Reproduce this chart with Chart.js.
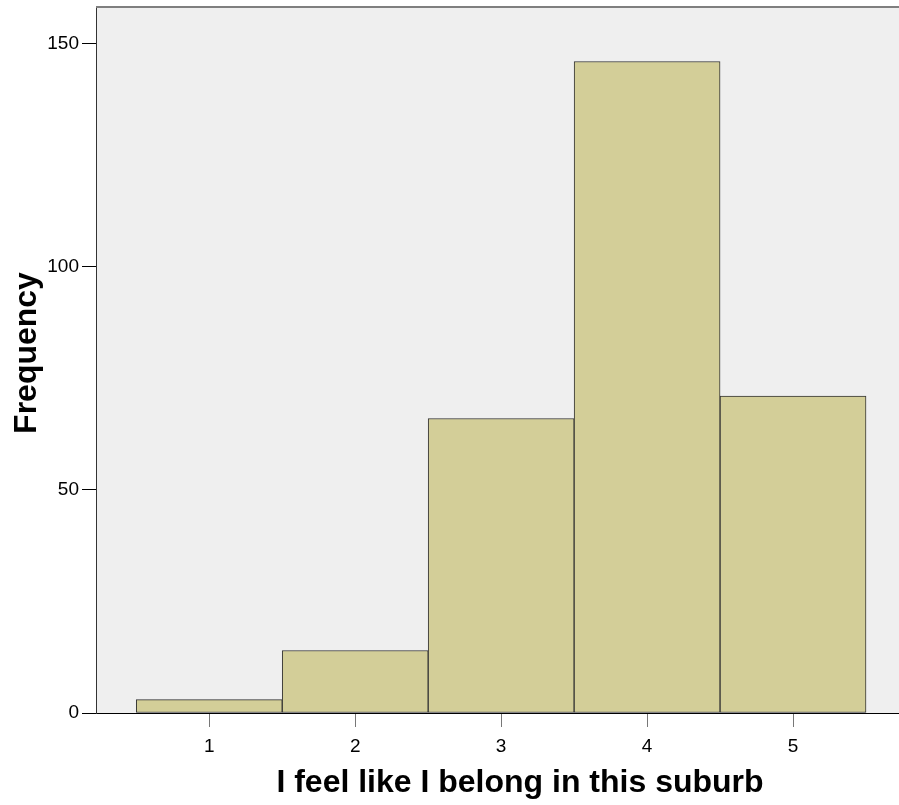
<!DOCTYPE html>
<html>
<head>
<meta charset="utf-8">
<script src="https://cdn.jsdelivr.net/npm/chart.js@4/dist/chart.umd.min.js"></script>
<style>
  body { margin: 0; background: #fff; }
  canvas { display: block; }
</style>
</head>
<body>
<canvas id="belong-hist" width="899" height="805"></canvas>
<script>
// answer values on the 1-5 scale and how many people gave each one
const categories = [1, 2, 3, 4, 5];
const frequencies = [3, 14, 66, 146, 71];
const yTickValues = [0, 50, 100, 150];
const xTitle = 'I feel like I belong in this suburb';
const yTitle = 'Frequency';

// grey plot panel + top rule, like the SPSS output
const panelBg = {
  id: 'panelBg',
  beforeDraw(chart) {
    const { ctx, chartArea: a } = chart;
    ctx.save();
    ctx.fillStyle = '#efefef';
    ctx.fillRect(a.left, a.top, a.right - a.left, a.bottom - a.top);
    ctx.strokeStyle = '#7f7f7f';
    ctx.lineWidth = 2;
    ctx.beginPath();
    ctx.moveTo(a.left, a.top - 1);
    ctx.lineTo(a.right, a.top - 1);
    ctx.stroke();
    ctx.restore();
  }
};

// axis titles, placed where the original has them
const axisTitles = {
  id: 'axisTitles',
  afterDraw(chart) {
    const ctx = chart.ctx;
    ctx.save();
    ctx.fillStyle = '#000';
    ctx.font = 'bold 32px "Liberation Sans", Arial, sans-serif';
    ctx.textAlign = 'center';
    ctx.textBaseline = 'alphabetic';
    ctx.fillText(xTitle, 520, 792);
    ctx.translate(36, 353);
    ctx.rotate(-Math.PI / 2);
    ctx.fillText(yTitle, 0, 0);
    ctx.restore();
  }
};

const ctx = document.getElementById('belong-hist');
const chart = new Chart(ctx, {
  type: 'bar',
  data: {
    datasets: [{
      label: yTitle,
      data: categories.map((c, i) => ({ x: c, y: frequencies[i] })),
      backgroundColor: '#d3ce98',
      borderColor: '#333333',
      borderWidth: 1,
      borderSkipped: false,
      barPercentage: 1,
      categoryPercentage: 1
    }]
  },
  options: {
    responsive: false,
    animation: false,
    layout: { padding: { top: 8, right: 0, left: 0, bottom: 0 } },
    plugins: {
      legend: { display: false },
      tooltip: { enabled: false }
    },
    scales: {
      x: {
        type: 'linear',
        min: 0.224,
        max: 5.726,
        offset: false,
        afterBuildTicks: (scale) => {
          scale.ticks = categories.map((v) => ({ value: v }));
        },
        afterFit: (scale) => {
          scale.height = 92;
          scale.paddingLeft = 0;
          scale.paddingRight = 0;
        },
        grid: {
          offset: false,
          drawOnChartArea: false,
          drawTicks: true,
          tickLength: 14,
          color: '#777'
        },
        border: { display: true, color: '#000', width: 1 },
        ticks: {
          color: '#000',
          padding: 8,
          font: { family: '"Liberation Sans", Arial, sans-serif', size: 19 }
        }
      },
      y: {
        min: 0,
        max: 158,
        afterBuildTicks: (scale) => {
          scale.ticks = yTickValues.map((v) => ({ value: v }));
        },
        afterFit: (scale) => {
          scale.width = 96;
          scale.paddingTop = 0;
          scale.paddingBottom = 0;
        },
        grid: {
          drawOnChartArea: false,
          drawTicks: true,
          tickLength: 14,
          color: '#000'
        },
        border: { display: true, color: '#333', width: 1 },
        ticks: {
          color: '#000',
          padding: 3,
          font: { family: '"Liberation Sans", Arial, sans-serif', size: 19 }
        }
      }
    }
  },
  plugins: [panelBg, axisTitles]
});
</script>
</body>
</html>
